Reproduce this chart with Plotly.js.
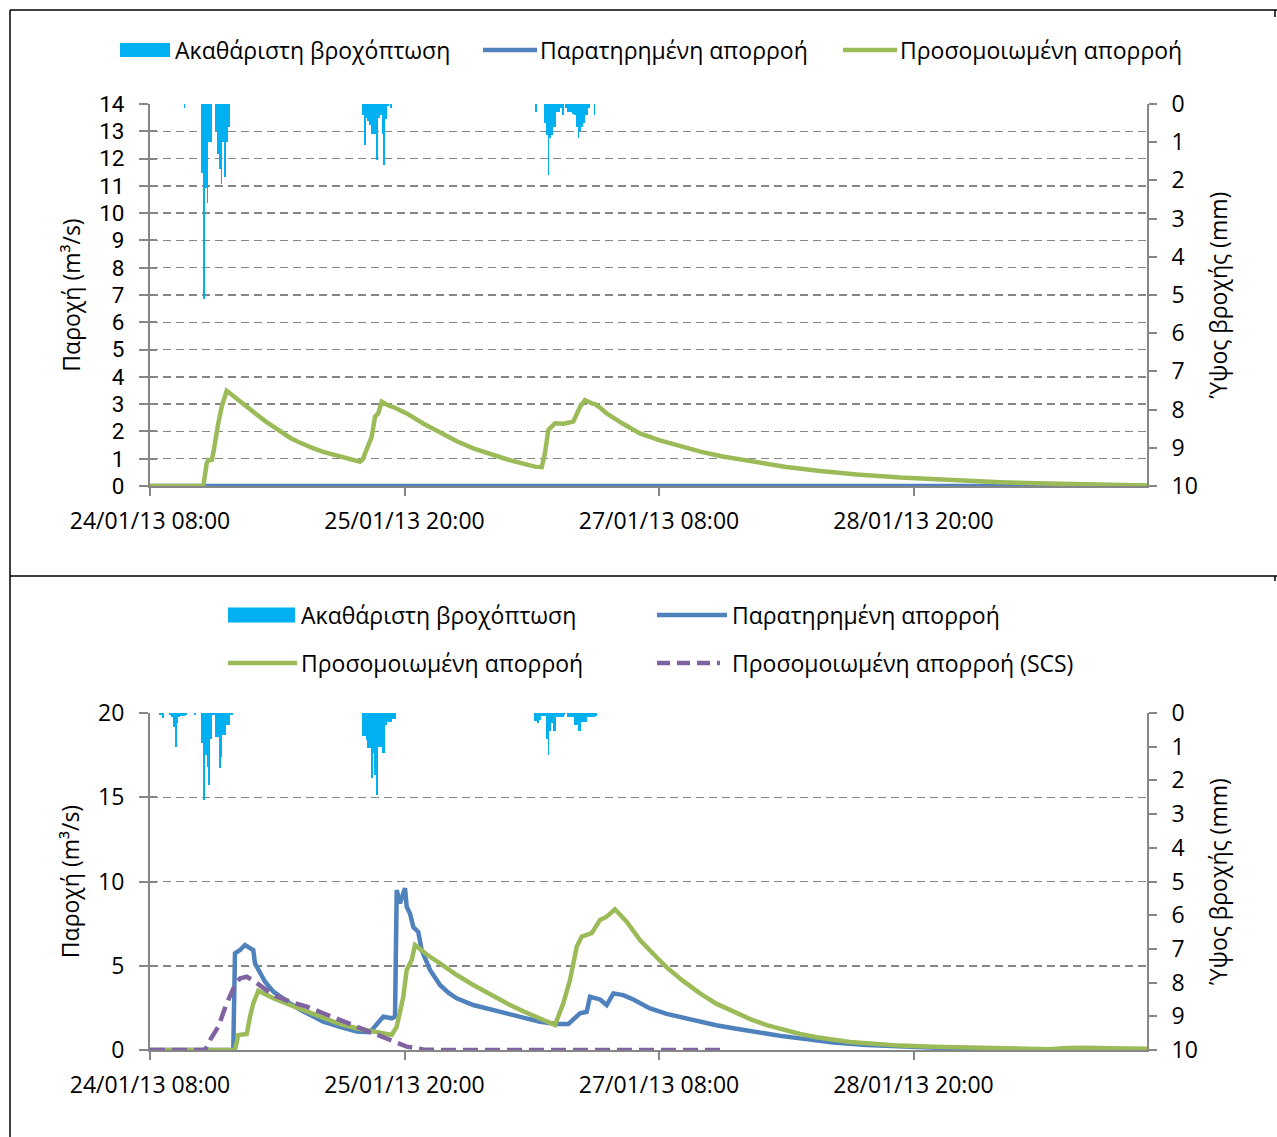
<!DOCTYPE html>
<html><head><meta charset="utf-8">
<script src="https://cdn.plot.ly/plotly-3.0.1.min.js"></script>
<style>html,body{margin:0;padding:0;background:#fff}#chart{width:1277px;height:1137px}</style>
</head><body><div id="chart"></div>
<script>
// ---------- DATA (time in hours after 24/01/13 08:00) ----------
const tickHours = [0, 36, 72, 108];
const endHour = 141.03;

// Gross rainfall (mm per 15 min), top chart
const rainTopStart = [4.75, 7.25, 30.0, 54.5];
const rainTopE0 = [0.1];
const rainTopE1 = [1.8, 5.1, 2.2, 2.6, 1.0, 1.0, 0, 0, 0.7, 1.3, 1.7, 2.1, 1.0, 1.9, 1.0, 0.6];
const rainTopE2 = [0.3, 1.07, 0.37, 0.45, 0.55, 0.78, 0.78, 0.78, 1.47, 0.37, 0.3, 0.78, 1.6, 0.4, 0.05, 0, 0.1];
const rainTopE3 = [0.2, 0, 0, 0, 0, 0.5, 0.8, 1.86, 0.9, 0.8, 0.6, 0.6, 0.2, 0.2, 0.1, 0.3, 0, 0.1, 0.2, 0.2, 0.2, 0.25, 0.3, 0.6, 0.9, 0.7, 0.6, 0.5, 0.3, 0.3, 0.1, 0, 0, 0.3];

// Gross rainfall (mm per 15 min), bottom chart
const rainBotStart = [1.25, 30.0, 54.25];
const rainBotE1 = [0.05, 0.05, 0.16, 0, 0, 0, 0.05, 0.13, 0.43, 1.0, 0.3, 0.13, 0.1, 0.1, 0.1, 0.05, 0, 0, 0, 0, 0.05, 0, 0, 0,
  0.9, 2.58, 1.26, 1.6, 2.14, 0.77, 0.05, 0.05, 0.72, 0.72, 1.64, 1.3, 0.66, 0.66, 0.37, 0.37, 0.06, 0.06];
const rainBotE2 = [0.67, 0.67, 0.8, 1.05, 1.05, 1.93, 1.2, 1.84, 2.43, 1.0, 1.0, 1.2, 1.2, 0.37, 0.28, 0.28, 0.28, 0.18, 0.18];
const rainBotE3 = [0.25, 0.25, 0.3, 0.2, 0.1, 0.1, 0.1, 0.77, 1.25, 0.52, 0.3, 0.52, 0.52, 0.13, 0.13, 0.13, 0.13, 0.05, 0,
  0.13, 0.13, 0.13, 0.13, 0.37, 0.37, 0.52, 0.52, 0.28, 0.28, 0.28, 0.13, 0.13, 0.13, 0.13, 0.13, 0.1];

// Top chart flows (m3/s)
const obsTopH = [0, 141.03];
const obsTopQ = [0, 0];
const simTopH = [0, 7.54, 8.02, 8.25, 8.73, 8.95, 9.66, 10.14, 10.85, 11.5, 12.73, 14.0, 15.09, 16.3, 17.44, 18.6, 19.8, 21.0, 22.17, 23.3, 24.51, 25.7, 26.88, 28.0, 29.24, 29.71,
  30.09, 30.65, 31.36, 31.83, 32.29, 32.78, 33.5, 34.7, 36.31, 38.7, 41.02, 43.4, 45.73, 48.1, 50.46, 52.5, 54.46, 55.41,
  55.87, 56.34, 57.29, 58.46, 59.88, 60.83, 61.53, 62.48, 62.95, 63.8, 64.6, 66.9, 69.31, 72.0, 75.0, 78.0, 81.0, 84.0, 87.0, 90.0, 94.8, 100.0, 106.09, 113.0, 120.24, 127.0, 134.39, 141.03];
const simTopQ = [0, 0, 0.83, 0.95, 0.95, 1.2, 2.3, 2.9, 3.49, 3.35, 3.12, 2.85, 2.62, 2.38, 2.17, 1.96, 1.77, 1.61, 1.47, 1.36, 1.25, 1.16, 1.08, 1.0, 0.93, 0.89,
  0.98, 1.32, 1.8, 2.54, 2.66, 3.09, 2.98, 2.86, 2.66, 2.28, 1.95, 1.64, 1.38, 1.16, 0.98, 0.84, 0.71, 0.69,
  1.2, 2.05, 2.3, 2.28, 2.36, 2.9, 3.15, 3.03, 3.0, 2.84, 2.66, 2.28, 1.93, 1.68, 1.45, 1.25, 1.08, 0.94, 0.81, 0.70, 0.55, 0.42, 0.31, 0.21, 0.14, 0.09, 0.05, 0.02];

// Bottom chart flows (m3/s)
const obsBotH = [0, 11.78, 12.02, 12.73, 13.44, 14.15, 14.61, 14.85, 15.56, 16.27, 17.44, 18.6, 19.80, 21.0, 22.17, 24.51, 26.88, 29.24, 31.12, 32.07, 33.00, 34.19, 34.66,
  34.90, 35.36, 36.07, 36.31, 36.78, 37.25, 37.95, 38.43, 39.61, 41.02, 42.2, 43.38, 45.73, 48.1, 50.46, 52.8, 55.17, 57.53, 59.17, 59.88, 60.83, 61.77, 62.24, 63.66, 64.60,
  65.54, 66.95, 68.37, 70.73, 73.09, 75.4, 77.80, 80.1, 82.51, 84.9, 87.24, 89.6, 91.95, 96.66, 101.38, 106.09, 110.80, 115.53, 120.24, 129.67, 141.03];
const obsBotQ = [0, 0, 5.74, 5.93, 6.23, 6.03, 5.93, 5.14, 4.65, 4.05, 3.46, 3.08, 2.77, 2.45, 2.18, 1.68, 1.38, 1.09, 1.05, 1.48, 1.98, 1.88, 1.98,
  9.5, 8.7, 9.6, 8.5, 8.1, 7.3, 7.0, 5.93, 4.75, 3.86, 3.4, 3.07, 2.67, 2.4, 2.18, 1.92, 1.68, 1.54, 1.54, 1.78, 2.18, 2.27, 3.16, 3.0, 2.67,
  3.36, 3.26, 3.0, 2.47, 2.14, 1.9, 1.68, 1.47, 1.29, 1.11, 0.95, 0.81, 0.69, 0.44, 0.3, 0.2, 0.14, 0.06, 0.02, 0, 0];
const simBotH = [0, 12.02, 12.49, 13.68, 14.15, 14.61, 15.32, 16.3, 17.44, 19.80, 22.17, 24.51, 26.88, 29.24, 31.59, 34.19, 34.90, 35.83, 36.31, 37.02, 37.49,
  39.2, 41.02, 43.4, 45.73, 48.1, 50.46, 52.8, 55.17, 57.29, 58.46, 59.41, 60.36, 61.07, 62.48, 63.66, 64.60, 65.77, 67.43, 69.31, 71.2, 73.09, 75.4, 77.80, 80.1, 82.51, 84.9, 87.24, 89.6, 91.95,
  94.3, 96.66, 99.0, 101.38, 106.09, 110.80, 115.53, 120.24, 124.95, 127.31, 129.67, 132.02, 135.80, 141.03];
const simBotQ = [0, 0, 0.89, 0.95, 1.98, 2.77, 3.52, 3.3, 3.07, 2.67, 2.27, 1.88, 1.54, 1.29, 1.09, 0.89, 1.38, 3.16, 4.75, 5.34, 6.23,
  5.65, 5.14, 4.45, 3.86, 3.28, 2.77, 2.3, 1.88, 1.48, 2.77, 4.15, 6.13, 6.73, 6.93, 7.72, 7.91, 8.35, 7.62, 6.53, 5.7, 4.9, 4.1, 3.36, 2.75, 2.27, 1.83, 1.48, 1.2, 0.95,
  0.76, 0.59, 0.48, 0.4, 0.26, 0.2, 0.14, 0.1, 0.06, 0.04, 0.12, 0.14, 0.1, 0.08];
const scsBotH = [0, 7.78, 8.49, 9.66, 10.85, 12.02, 12.73, 13.68, 14.85, 17.44, 19.80, 22.17, 24.51, 26.88, 29.24, 31.59, 33.95, 36.31, 38.66, 41.02, 80.91];
const scsBotQ = [0, 0, 0.59, 1.38, 2.77, 3.86, 4.25, 4.35, 4.05, 3.26, 2.87, 2.57, 2.18, 1.78, 1.38, 0.99, 0.59, 0.2, 0.03, 0, 0];

const names = ['Ακαθάριστη βροχόπτωση', 'Παρατηρημένη απορροή', 'Προσομοιωμένη απορροή', 'Προσομοιωμένη απορροή (SCS)'];
const yTitleLeft = 'Παροχή (m³/s)';
const yTitleRight = 'Ύψος βροχής (mm)';
const colors = {rain: '#00B0F0', obs: '#4F81BD', sim: '#9BBB59', scs: '#8064A2'};

// ---------- helpers ----------
const T0 = Date.UTC(2013, 0, 24, 8, 0, 0);
function hToStr(h) {
  const d = new Date(T0 + Math.round(h * 3600000));
  return d.toISOString().replace('T', ' ').slice(0, 19);
}
function rainSeries(starts, events) {
  const x = [], y = [];
  events.forEach((vals, k) => {
    vals.forEach((v, i) => { x.push(hToStr(starts[k] + i * 0.25 + 0.125)); y.push(v); });
  });
  return {x, y};
}
const W = 1277, H = 1137;
const px = v => v / W, py = v => 1 - v / H;

const rTop = rainSeries(rainTopStart, [rainTopE0, rainTopE1, rainTopE2, rainTopE3]);
const rBot = rainSeries(rainBotStart, [rainBotE1, rainBotE2, rainBotE3]);

const FONT = '"Open Sans", "Noto Sans", sans-serif';
const FS = 23;
const AX = '#868686';

const lineTrace = (h, q, xa, ya, color, dash) => ({
  type: 'scatter', mode: 'lines', x: h.map(hToStr), y: q, xaxis: xa, yaxis: ya,
  line: {color: color, width: 4.5, dash: dash || 'solid', shape: 'linear'}, showlegend: false, hoverinfo: 'skip'
});

const traces = [
  lineTrace(obsTopH, obsTopQ, 'x', 'y', colors.obs),
  lineTrace(simTopH, simTopQ, 'x', 'y', colors.sim),
  {type: 'bar', x: rTop.x, y: rTop.y, xaxis: 'x', yaxis: 'y2', width: 900000, marker: {color: colors.rain, line: {width: 0}}, showlegend: false, hoverinfo: 'skip'},
  lineTrace(obsBotH, obsBotQ, 'x2', 'y3', colors.obs),
  lineTrace(simBotH, simBotQ, 'x2', 'y3', colors.sim),
  lineTrace(scsBotH, scsBotQ, 'x2', 'y3', colors.scs, '15px,7px'),
  {type: 'bar', x: rBot.x, y: rBot.y, xaxis: 'x2', yaxis: 'y4', width: 900000, marker: {color: colors.rain, line: {width: 0}}, showlegend: false, hoverinfo: 'skip'},
  {type: 'scatter', x: [], y: [], xaxis: 'x', yaxis: 'y5', showlegend: false},
  {type: 'scatter', x: [], y: [], xaxis: 'x2', yaxis: 'y6', showlegend: false}
];

const xdom = [px(150), px(1147)];
const topDom = [py(486), py(104)];
const botDom = [py(1050), py(713)];

const xCommon = (anchor) => ({
  type: 'date', domain: xdom, anchor: anchor, range: [hToStr(0), hToStr(endHour)],
  tickmode: 'array', tickvals: tickHours.map(hToStr), tickformat: '%d/%m/%y %H:%M',
  showgrid: false, zeroline: false, showline: true, linecolor: AX, linewidth: 2,
  ticks: 'outside', ticklen: 8, tickwidth: 2, tickcolor: AX, ticklabelstandoff: 5,
  tickfont: {family: FONT, size: FS, color: '#000'}, layer: 'below traces'
});
const yLeft = (dom, range, dtick, anchor, tfont) => ({
  domain: dom, anchor: anchor, range: range, dtick: dtick, tick0: 0, tickmode: 'linear',
  showgrid: true, gridcolor: AX, gridwidth: 1.5, griddash: '8px,5px', zeroline: false,
  showline: true, linecolor: AX, linewidth: 2, ticks: 'outside', ticklen: 9, tickwidth: 2, tickcolor: AX,
  ticklabelstandoff: 10, tickfont: tfont,
  title: {text: yTitleLeft, font: {family: FONT, size: FS, color: '#000'}, standoff: 12},
  layer: 'below traces'
});
const yRight = (over, anchor) => ({
  overlaying: over, anchor: anchor, side: 'right', range: [10, 0], dtick: 1, tick0: 0, tickmode: 'linear',
  showgrid: false, zeroline: false, showline: true, linecolor: AX, linewidth: 2,
  ticks: 'outside', ticklen: 8, tickwidth: 2, tickcolor: AX, ticklabelstandoff: 10,
  tickfont: {family: FONT, size: FS, color: '#000'},
  title: {text: yTitleRight, font: {family: FONT, size: FS, color: '#000'}, standoff: 14}
});
const yInside = (over, anchor, range, dtick) => ({
  overlaying: over, anchor: anchor, side: 'left', range: range, dtick: dtick, tick0: 0, tickmode: 'linear',
  showgrid: false, zeroline: false, showline: false, ticks: 'inside', ticklen: 7, tickwidth: 2, tickcolor: AX,
  showticklabels: false
});

// ---------- manual legends & frame ----------
const shapes = [];
const annotations = [];
function legRect(x0, x1, yc, h) {
  shapes.push({type: 'rect', xref: 'paper', yref: 'paper', x0: px(x0), x1: px(x1), y0: py(yc + h / 2), y1: py(yc - h / 2),
    fillcolor: colors.rain, line: {width: 0}});
}
function legLine(x0, x1, yc, color, dash) {
  shapes.push({type: 'line', xref: 'paper', yref: 'paper', x0: px(x0), x1: px(x1), y0: py(yc), y1: py(yc),
    line: {color: color, width: 4.5, dash: dash || 'solid'}});
}
function legText(x, yc, t) {
  annotations.push({xref: 'paper', yref: 'paper', x: px(x), y: py(yc), xanchor: 'left', yanchor: 'middle',
    text: t, showarrow: false, font: {family: FONT, size: FS, color: '#000'}});
}
// top legend
legRect(120, 170, 50, 14); legText(173, 50, names[0]);
legLine(483, 537, 50, colors.obs); legText(538, 50, names[1]);
legLine(843, 897, 50, colors.sim); legText(898, 50, names[2]);
// bottom legend
legRect(228, 295, 615, 15); legText(299, 615, names[0]);
legLine(657, 727, 615, colors.obs); legText(730, 615, names[1]);
legLine(228, 297, 663, colors.sim); legText(299, 663, names[2]);
legLine(657, 720, 663, colors.scs, '13px,7px'); legText(730, 663, names[3]);

// frame lines
const frame = (x0, y0, x1, y1) => shapes.push({type: 'line', xref: 'paper', yref: 'paper',
  x0: px(x0), y0: py(y0), x1: px(x1), y1: py(y1), line: {color: '#000', width: 1.5}});
frame(10, 10, 1277, 10);
frame(10, 10, 10, 1137);
frame(10, 576, 1277, 576);
frame(1275, 10, 1275, 17);
frame(1275, 576, 1275, 581);

const layout = {
  width: W, height: H, margin: {l: 0, r: 0, t: 0, b: 0}, paper_bgcolor: '#fff', plot_bgcolor: 'rgba(0,0,0,0)',
  font: {family: FONT, size: FS, color: '#000'}, showlegend: false, barmode: 'overlay', bargap: 0,
  xaxis: xCommon('y'),
  xaxis2: xCommon('y3'),
  yaxis: yLeft(topDom, [0, 14], 1, 'x', {family: 'Roboto, "Open Sans", sans-serif', size: 22.5, color: '#000'}),
  yaxis2: yRight('y', 'x'),
  yaxis3: yLeft(botDom, [0, 20], 5, 'x2', {family: FONT, size: FS, color: '#000'}),
  yaxis4: yRight('y3', 'x2'),
  yaxis5: yInside('y', 'x', [0, 14], 1),
  yaxis6: yInside('y3', 'x2', [0, 20], 5),
  shapes: shapes, annotations: annotations
};

Plotly.newPlot('chart', traces, layout, {staticPlot: true, displayModeBar: false});
</script></body></html>
